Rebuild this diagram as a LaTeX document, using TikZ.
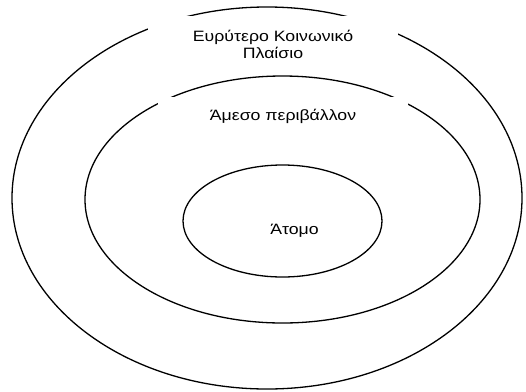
\documentclass[tikz,border=0pt]{standalone}
\usepackage{fontspec}
\setmainfont{Liberation Sans}[FakeStretch=1.18]
\begin{document}
\begin{tikzpicture}[x=1pt, y=-1pt,
    ring/.style={line width=1.3pt},
    tag/.style={fill=white, inner sep=0pt, font=\fontsize{15}{17}\selectfont, align=center}]

        \useasboundingbox (0,0) rectangle (526,391);

        % The three nested ellipses
        \draw[ring] (267,198) ellipse (255 and 191);
        \draw[ring] (282.5,199.5) ellipse (197.5 and 123.5);
        \draw[ring] (282.5,221) ellipse (99.5 and 56);

        % Text boxes (white fill hides part of the rings)
        \node[tag, minimum width=250pt, minimum height=56pt] (wider) at (273,44) {Ευρύτερο Κοινωνικό\\Πλαίσιο};
        \node[tag, minimum width=250pt, minimum height=39pt] (near) at (283,116.5) {Άμεσο περιβάλλον};
        \node[tag, fill=none] (self) at (294.5,231) {Άτομο};

\end{tikzpicture}
\end{document}
